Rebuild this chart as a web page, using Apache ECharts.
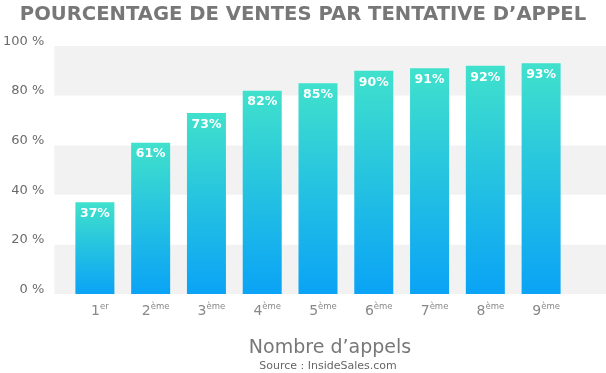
<!DOCTYPE html>
<html><head><meta charset="utf-8">
<script src="https://cdn.jsdelivr.net/npm/echarts@6/dist/echarts.min.js"></script>
<style>html,body{margin:0;padding:0;background:#fff}#c{width:606px;height:373px}</style>
</head><body><div id="c"></div>
<script>
const titleText = "POURCENTAGE DE VENTES PAR TENTATIVE D’APPEL";
const categoryNumbers = ["1", "2", "3", "4", "5", "6", "7", "8", "9"];
const categorySuffixes = ["er", "ème", "ème", "ème", "ème", "ème", "ème", "ème", "ème"];
const values = [37, 61, 73, 82, 85, 90, 91, 92, 93];
const yTicks = [0, 20, 40, 60, 80, 100];
const xAxisName = "Nombre d’appels";
const sourceText = "Source : InsideSales.com";

const chart = echarts.init(document.getElementById('c'));
const categories = categoryNumbers.map((n, i) => n + '|' + categorySuffixes[i]);
const FONT = "'DejaVu Sans', sans-serif";
chart.setOption({
  animation: false,
  backgroundColor: '#fff',
  title: [
    { text: titleText, left: 'center', top: 0,
      textStyle: { fontFamily: FONT, fontWeight: 'bold', fontSize: 19.6, color: '#777' } },
    { text: xAxisName, left: 325, textAlign: 'center', top: 334,
      textStyle: { fontFamily: FONT, fontWeight: 'normal', fontSize: 19, color: '#777' } },
    { text: sourceText, left: 323, textAlign: 'center', top: 356,
      textStyle: { fontFamily: FONT, fontWeight: 'normal', fontSize: 11, color: '#666' } }
  ],
  grid: [
    { left: 48, right: 0, top: 46, bottom: 79 },
    { left: 67, right: 37, top: 46, bottom: 79 }
  ],
  xAxis: [
    { gridIndex: 0, type: 'value', min: 0, max: 1, show: false },
    { gridIndex: 1, type: 'category', data: categories,
      axisLine: { show: false }, axisTick: { show: false },
      axisLabel: {
        interval: 0, margin: 8, padding: [0, 0, 0, 10],
        formatter: v => { const p = v.split('|'); return '{n|' + p[0] + '}{s|' + p[1] + '}'; },
        rich: {
          n: { fontFamily: FONT, fontSize: 14, color: '#888', verticalAlign: 'bottom', lineHeight: 16 },
          s: { fontFamily: FONT, fontSize: 8.5, color: '#888', verticalAlign: 'top', lineHeight: 16, padding: [0, 0, 6, 0] }
        }
      } }
  ],
  yAxis: [
    { gridIndex: 0, type: 'value', min: 0, max: 100, interval: 20,
      axisLine: { show: false }, axisTick: { show: false }, splitLine: { show: false },
      splitArea: { show: true, areaStyle: { color: ['#f2f2f2', '#ffffff'] } },
      axisLabel: { margin: 10, fontFamily: FONT, fontSize: 13, color: '#6b6b6b',
        verticalAlign: 'bottom', lineHeight: 9,
        formatter: v => yTicks.includes(v) ? v + ' %' : '' } },
    { gridIndex: 1, type: 'value', min: 0, max: 100, interval: 20, show: false }
  ],
  series: [{
    type: 'bar', xAxisIndex: 1, yAxisIndex: 1, data: values, barWidth: 39,
    itemStyle: { color: new echarts.graphic.LinearGradient(0, 0, 0, 1, [
      { offset: 0, color: '#40e1cc' }, { offset: 1, color: '#0aa3f6' }]) },
    label: { show: true, position: 'insideTop', distance: 5, formatter: '{c}%',
      fontFamily: FONT, fontWeight: 'bold', fontSize: 12.5, color: '#fff' }
  }]
});
</script></body></html>
